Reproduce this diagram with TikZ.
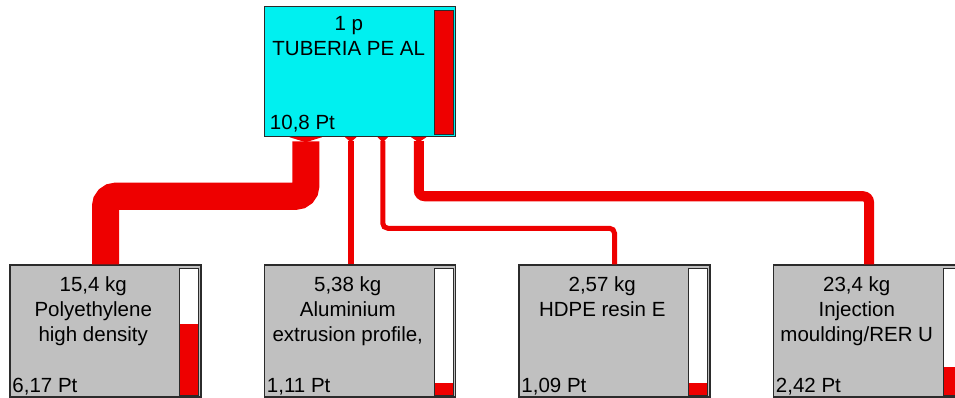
\documentclass[tikz,border=0pt]{standalone}
\usepackage{fontspec}
\setmainfont{Liberation Sans}
\usetikzlibrary{arrows.meta,positioning,calc}
\definecolor{proccyan}{HTML}{00F0F0}
\definecolor{procgrey}{HTML}{C0C0C0}
\definecolor{flowred}{HTML}{EE0000}
\definecolor{boxedge}{HTML}{2B2B2B}

\begin{document}
\begin{tikzpicture}[
    x=1pt, y=-1pt,
    node distance=62pt,
    proc/.style={rectangle, draw=boxedge, line width=1.5pt, fill=procgrey, minimum width=191pt, minimum height=132pt, inner sep=0pt},
    mainproc/.style={proc, fill=proccyan, minimum height=130pt},
    proctext/.style={anchor=north, align=center, inner sep=0pt, font=\fontsize{20.5}{25}\selectfont},
    score/.style={anchor=base west, inner sep=0pt, font=\fontsize{20.5}{25}\selectfont},
    meter/.style={draw=boxedge, line width=1.2pt, fill=white},
    flow/.style={draw=flowred, -{Triangle[reversed, length=5pt, width=5pt 1]}}
  ]
    \useasboundingbox (0,0) rectangle (955,398);
    \clip (0,0) rectangle (955,398);

    \node[proc] (poly) at (105.5,331) {};
    \node[proc, right=of poly] (alu) {};
    \node[proc, right=of alu] (hdpe) {};
    \node[proc, right=of hdpe] (inj) {};
    \node[mainproc, above=127pt of alu] (pipe) {};

    \node[proctext] (pipe-t) at ($(pipe.north west)+(85,10)$) {1 p\\TUBERIA PE AL};
    \node[proctext] (poly-t) at ($(poly.north west)+(84,12)$) {15,4 kg\\Polyethylene\\high density};
    \node[proctext] (alu-t) at ($(alu.north west)+(84,12)$) {5,38 kg\\Aluminium\\extrusion profile,};
    \node[proctext] (hdpe-t) at ($(hdpe.north west)+(84,12)$) {2,57 kg\\HDPE resin E};
    \node[proctext] (inj-t) at ($(inj.north west)+(84,12)$) {23,4 kg\\Injection\\moulding/RER U};

    \node[score] (pipe-s) at ($(pipe.south west)+(6,-8)$) {10,8 Pt};
    \node[score] (poly-s) at ($(poly.south west)+(3,-5)$) {6,17 Pt};
    \node[score] (alu-s) at ($(alu.south west)+(3,-5)$) {1,11 Pt};
    \node[score] (hdpe-s) at ($(hdpe.south west)+(3,-5)$) {1,09 Pt};
    \node[score] (inj-s) at ($(inj.south west)+(3,-5)$) {2,42 Pt};

    \draw[meter] ($(pipe.north east)+(-22,5)$) rectangle ($(pipe.south east)+(-3,-3)$);
    \fill[flowred] ($(pipe.south east)+(-22,-3)$) rectangle ($(pipe.north east)+(-3,5)$);
    \draw[meter, fill=none] ($(pipe.north east)+(-22,5)$) rectangle ($(pipe.south east)+(-3,-3)$);
    \draw[meter] ($(poly.north east)+(-22,4)$) rectangle ($(poly.south east)+(-3,-2)$);
    \fill[flowred] ($(poly.south east)+(-22,-2)$) rectangle ++(19,-72);
    \draw[meter, fill=none] ($(poly.north east)+(-22,4)$) rectangle ($(poly.south east)+(-3,-2)$);
    \draw[meter] ($(alu.north east)+(-22,4)$) rectangle ($(alu.south east)+(-3,-2)$);
    \fill[flowred] ($(alu.south east)+(-22,-2)$) rectangle ++(19,-13);
    \draw[meter, fill=none] ($(alu.north east)+(-22,4)$) rectangle ($(alu.south east)+(-3,-2)$);
    \draw[meter] ($(hdpe.north east)+(-22,4)$) rectangle ($(hdpe.south east)+(-3,-2)$);
    \fill[flowred] ($(hdpe.south east)+(-22,-2)$) rectangle ++(19,-13);
    \draw[meter, fill=none] ($(hdpe.north east)+(-22,4)$) rectangle ($(hdpe.south east)+(-3,-2)$);
    \draw[meter] ($(inj.north east)+(-22,4)$) rectangle ($(inj.south east)+(-3,-2)$);
    \fill[flowred] ($(inj.south east)+(-22,-2)$) rectangle ++(19,-29);
    \draw[meter, fill=none] ($(inj.north east)+(-22,4)$) rectangle ($(inj.south east)+(-3,-2)$);

    \draw[flow, line width=27pt, rounded corners=10pt] (poly.north) |- ($(pipe.south west)+(42,59)$) -- ($(pipe.south west)+(42,0)$);
    \draw[flow, line width=6pt] ($(alu.north west)+(87,0)$) -- ($(pipe.south west)+(87,0)$);
    \draw[flow, line width=5pt, rounded corners=5pt] (hdpe.north) |- ($(pipe.south west)+(119,91)$) -- ($(pipe.south west)+(119,0)$);
    \draw[flow, line width=10pt, rounded corners=6pt] (inj.north) |- ($(pipe.south west)+(155,59)$) -- ($(pipe.south west)+(155,0)$);
  \end{tikzpicture}
\end{document}
